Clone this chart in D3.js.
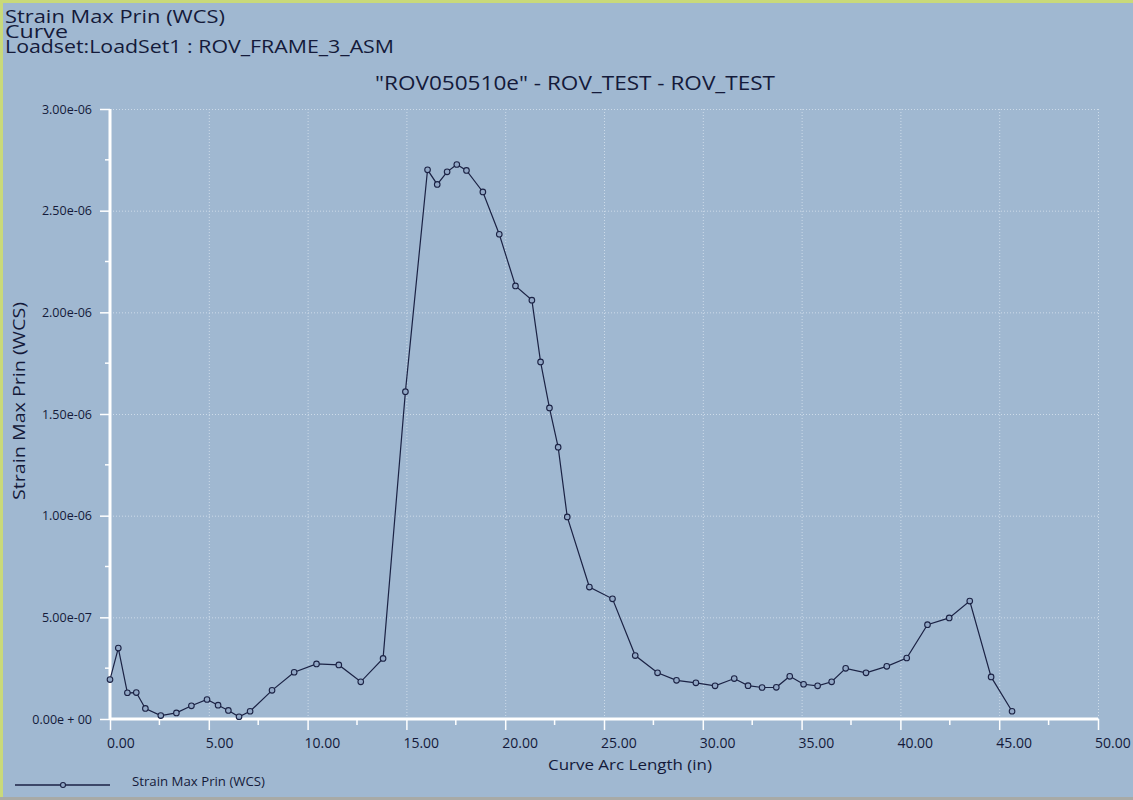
<!DOCTYPE html>
<html>
<head>
<meta charset="utf-8">
<script src="https://cdn.jsdelivr.net/npm/d3@7/dist/d3.min.js"></script>
<style>
  html, body { margin: 0; padding: 0; background: #a0b8d1; }
  svg { display: block; }
  text { font-family: "Open Sans", Lato, sans-serif; fill: #141a3a; }
</style>
</head>
<body>
<svg id="chart" width="1133" height="800"></svg>
<script>
// Curve arc length (in) along the path
const arcLength = [
  0.00, 0.42, 0.88, 1.33, 1.79, 2.57, 3.36, 4.12, 4.91, 5.47,
  5.99, 6.53, 7.09, 8.20, 9.32, 10.45, 11.58, 12.69, 13.82, 14.95,
  16.07, 16.56, 17.06, 17.55, 18.04, 18.87, 19.70, 20.52, 21.35, 21.79,
  22.24, 22.68, 23.14, 24.26, 25.43, 26.58, 27.71, 28.67, 29.65, 30.62,
  31.59, 32.29, 33.00, 33.72, 34.40, 35.10, 35.81, 36.52, 37.23, 38.26,
  39.31, 40.32, 41.37, 42.47, 43.51, 44.59, 45.65
];
// Strain Max Prin (WCS) at each arc length station
const strain = [
  1.94e-7, 3.49e-7, 1.29e-7, 1.30e-7, 5.2e-8, 1.7e-8, 3.0e-8, 6.5e-8, 9.6e-8, 6.8e-8,
  4.2e-8, 1.1e-8, 3.8e-8, 1.41e-7, 2.30e-7, 2.71e-7, 2.66e-7, 1.83e-7, 2.98e-7, 1.610e-6,
  2.701e-6, 2.629e-6, 2.691e-6, 2.727e-6, 2.698e-6, 2.592e-6, 2.384e-6, 2.130e-6, 2.060e-6, 1.756e-6,
  1.530e-6, 1.337e-6, 9.94e-7, 6.49e-7, 5.91e-7, 3.12e-7, 2.27e-7, 1.90e-7, 1.78e-7, 1.63e-7,
  1.99e-7, 1.64e-7, 1.55e-7, 1.56e-7, 2.10e-7, 1.71e-7, 1.63e-7, 1.83e-7, 2.49e-7, 2.27e-7,
  2.59e-7, 3.00e-7, 4.64e-7, 4.97e-7, 5.80e-7, 2.07e-7, 3.8e-8
];

const xTicks = [0, 5, 10, 15, 20, 25, 30, 35, 40, 45, 50];
const xMinorTicks = [2.5, 7.5, 12.5, 17.5, 22.5, 27.5, 32.5, 37.5, 42.5, 47.5];
const yTicks = [0, 5e-7, 1e-6, 1.5e-6, 2e-6, 2.5e-6, 3e-6];
const yMinorTicks = [2.5e-7, 7.5e-7, 1.25e-6, 1.75e-6, 2.25e-6, 2.75e-6];
const yTickLabels = ["0.00e + 00", "5.00e-07", "1.00e-06", "1.50e-06", "2.00e-06", "2.50e-06", "3.00e-06"];

const titleLines = ["Strain Max Prin (WCS)", "Curve", "Loadset:LoadSet1 :  ROV_FRAME_3_ASM"];
const subtitle = "\"ROV050510e\" - ROV_TEST - ROV_TEST";
const xTitle = "Curve Arc Length (in)";
const yTitle = "Strain Max Prin (WCS)";
const seriesName = "Strain Max Prin (WCS)";

const svg = d3.select("#chart");
const W = 1133, H = 800;
const plotLeft = 110, plotRight = 1098, plotTop = 109, plotBottom = 719;

const x = d3.scaleLinear().domain([0, 50]).range([plotLeft, plotRight]);
const y = d3.scaleLinear().domain([0, 3e-6]).range([plotBottom, plotTop]);

const ink = "#141a3a";
const axisWhite = "#ffffff";
const font = "'Open Sans', Lato, sans-serif";

// frame
svg.append("rect").attr("width", W).attr("height", H).attr("fill", "#a0b8d1");
svg.append("rect").attr("x", 0).attr("y", 0).attr("width", W).attr("height", 3).attr("fill", "#c9d97a");
svg.append("rect").attr("x", 0).attr("y", 0).attr("width", 3).attr("height", H).attr("fill", "#c9d97a");
svg.append("rect").attr("x", 0).attr("y", H - 3).attr("width", W).attr("height", 3).attr("fill", "#a8aaa6");

// dotted grid
const grid = svg.append("g").attr("stroke", "#d6e2ee").attr("stroke-width", 1)
  .attr("stroke-dasharray", "1,2").attr("opacity", 0.85);
grid.selectAll("line.gx").data(xTicks.slice(1)).join("line")
  .attr("x1", d => x(d) + 0.5).attr("x2", d => x(d) + 0.5)
  .attr("y1", plotTop).attr("y2", plotBottom);
grid.selectAll("line.gy").data(yTicks.slice(1)).join("line")
  .attr("x1", plotLeft).attr("x2", plotRight)
  .attr("y1", d => y(d) + 0.5).attr("y2", d => y(d) + 0.5);

// x axis: major and minor ticks below a white baseline
const xAxis = d3.axisBottom(x).tickValues(xTicks).tickSize(11).tickPadding(7)
  .tickFormat(d3.format(".2f"));
const gx = svg.append("g").attr("transform", `translate(0,${plotBottom})`).call(xAxis);
gx.select(".domain").attr("stroke", axisWhite).attr("stroke-width", 3).attr("d", `M${plotLeft},0H${plotRight}`);
gx.selectAll(".tick line").attr("stroke", axisWhite).attr("stroke-width", 1.5);
gx.selectAll(".tick text").attr("fill", ink).attr("text-anchor", "start").attr("x", -3.5)
  .attr("y", 29).attr("dy", 0)
  .style("font-size", "14px").style("font-family", font);
svg.append("g").attr("transform", `translate(0,${plotBottom})`)
  .selectAll("line").data(xMinorTicks).join("line")
  .attr("x1", d => x(d)).attr("x2", d => x(d)).attr("y1", 0).attr("y2", 6)
  .attr("stroke", axisWhite).attr("stroke-width", 1.5);

// y axis: major ticks with labels, minor ticks between
const yAxis = d3.axisLeft(y).tickValues(yTicks).tickSize(10).tickPadding(8)
  .tickFormat((d, i) => yTickLabels[i]);
const gy = svg.append("g").attr("transform", `translate(${plotLeft},0)`).call(yAxis);
gy.select(".domain").attr("stroke", axisWhite).attr("stroke-width", 3).attr("d", `M0,${plotBottom}V${plotTop}`);
gy.selectAll(".tick line").attr("stroke", axisWhite).attr("stroke-width", 1.5);
gy.selectAll(".tick text").attr("fill", ink).style("font-size", "12.5px")
  .style("font-family", font);
svg.append("g").attr("transform", `translate(${plotLeft},0)`)
  .selectAll("line").data(yMinorTicks).join("line")
  .attr("x1", -5).attr("x2", 0).attr("y1", d => y(d)).attr("y2", d => y(d))
  .attr("stroke", axisWhite).attr("stroke-width", 1.5);

// series line and markers
const pts = arcLength.map((a, i) => [a, strain[i]]);
svg.append("path").datum(pts)
  .attr("fill", "none").attr("stroke", "#1b2244").attr("stroke-width", 1.2)
  .attr("d", d3.line().x(d => x(d[0])).y(d => y(d[1])));
svg.append("g").selectAll("circle").data(pts).join("circle")
  .attr("cx", d => x(d[0])).attr("cy", d => y(d[1])).attr("r", 2.8)
  .attr("fill", "#92a8c6").attr("stroke", "#1b2244").attr("stroke-width", 1.1);

// titles
const tBase = [23, 38, 53];
const tLen = [220, 63, 389];
titleLines.forEach((t, i) => {
  svg.append("text").attr("x", 5).attr("y", tBase[i]).text(t)
    .attr("textLength", tLen[i]).attr("lengthAdjust", "spacingAndGlyphs")
    .style("font-size", "18.5px");
});
svg.append("text").attr("x", 575).attr("y", 90)
  .attr("text-anchor", "middle").text(subtitle)
  .attr("textLength", 400).attr("lengthAdjust", "spacingAndGlyphs")
  .style("font-size", "20.5px");

// axis titles
svg.append("text").attr("x", 630).attr("y", 770)
  .attr("text-anchor", "middle").text(xTitle)
  .attr("textLength", 164).attr("lengthAdjust", "spacingAndGlyphs")
  .style("font-size", "15px");
svg.append("text")
  .attr("transform", `translate(24.5,401) rotate(-90)`)
  .attr("text-anchor", "middle").text(yTitle)
  .attr("textLength", 198).attr("lengthAdjust", "spacingAndGlyphs")
  .style("font-size", "15.5px");

// legend
const ly = 785;
svg.append("line").attr("x1", 15).attr("x2", 110).attr("y1", ly).attr("y2", ly)
  .attr("stroke", "#1b2244").attr("stroke-width", 1.3);
svg.append("circle").attr("cx", 63).attr("cy", ly).attr("r", 2.5)
  .attr("fill", "#92a8c6").attr("stroke", "#1b2244").attr("stroke-width", 1.1);
svg.append("text").attr("x", 132).attr("y", ly - 3).attr("dy", "0.35em")
  .text(seriesName)
  .attr("textLength", 133).attr("lengthAdjust", "spacingAndGlyphs")
  .style("font-size", "12px");
</script>
</body>
</html>
